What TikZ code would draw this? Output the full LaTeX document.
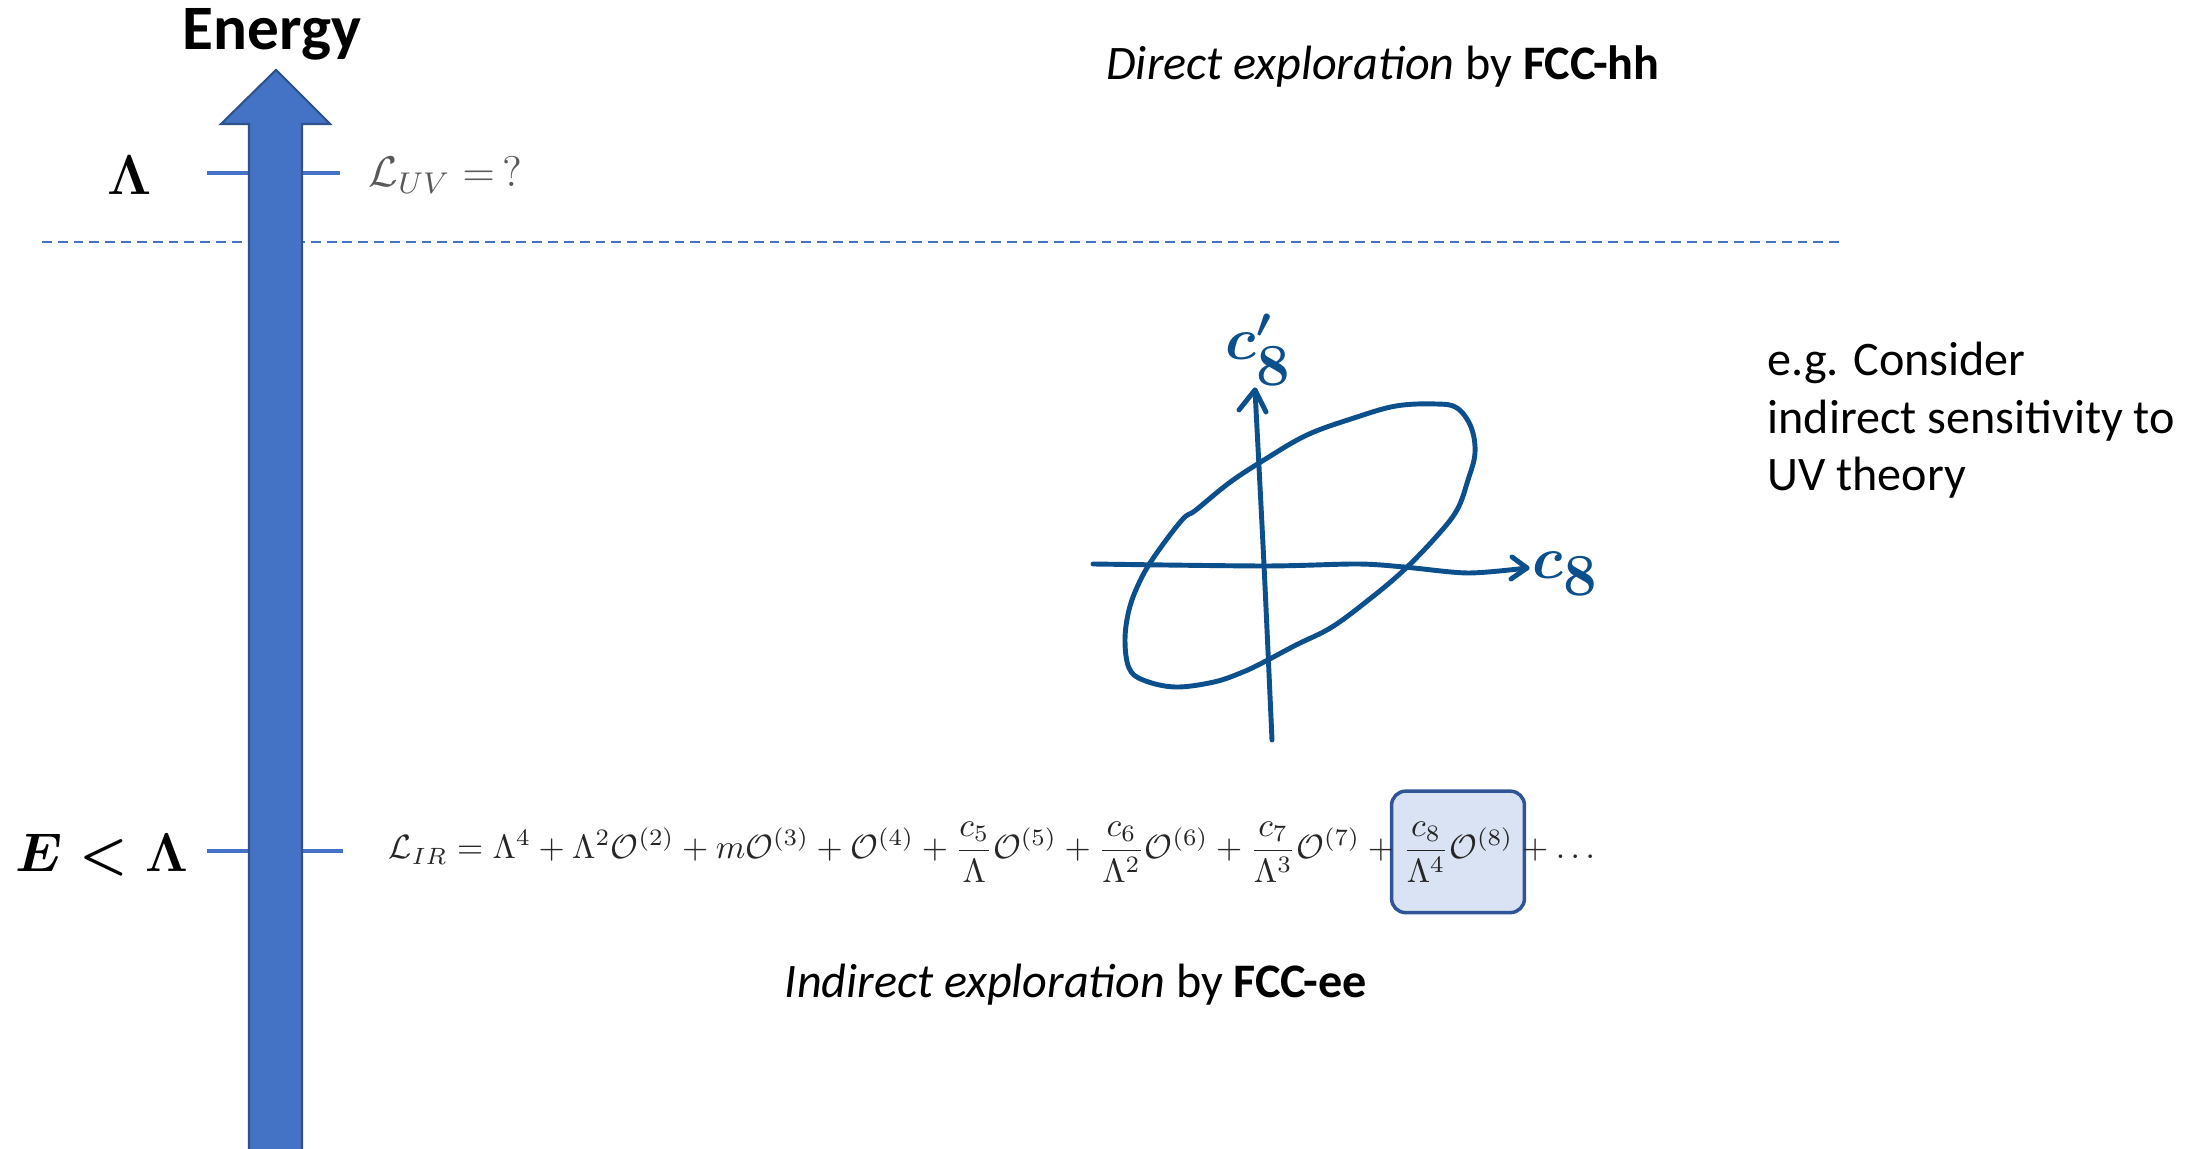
\RequirePackage{fix-cm}
\documentclass[tikz,border=0pt]{standalone}
\usepackage{amsmath,amssymb}
\usepackage{fontspec}
\setmainfont{Carlito}
\usetikzlibrary{positioning,fit}
\definecolor{arrowblue}{HTML}{4472C4}
\definecolor{arrowedge}{HTML}{2F528F}
\definecolor{inkblue}{HTML}{0B4F8C}
\definecolor{boxfill}{HTML}{DAE3F3}
\definecolor{boxedge}{HTML}{2F5597}
\pgfdeclarelayer{background}
\pgfsetlayers{background,main}

\begin{document}
\begin{tikzpicture}[x=0.1mm,y=-0.1mm,
    scaletick/.style={arrowblue,line width=1.1pt},
    ink/.style={inkblue,line width=1.4pt,line cap=round,line join=round},
    inklabel/.style={text=inkblue,font=\fontsize{17}{19}\selectfont},
    eq/.style={inner sep=0pt,font=\fontsize{10}{12}\selectfont,text=black!85,scale=0.958,transform shape},
    caption/.style={anchor=base,font=\fontsize{13.7}{16}\selectfont},
    c8frame/.style={draw=boxedge,fill=boxfill,line width=1pt,rounded corners=4pt}]
  \useasboundingbox (0,0) rectangle (2205,1149);
  \draw[arrowblue,line width=0.8pt,dash pattern=on 2.8pt off 1.7pt] (42,242) -- (1839,242);
  \draw[scaletick] (207,173) -- (340,173);
  \draw[scaletick] (207,851) -- (343,851);
  \filldraw[fill=arrowblue,draw=arrowedge,line width=0.6pt] (249,1160) -- (249,124) -- (221,124) -- (276,70) -- (330,124) -- (302,124) -- (302,1160) -- cycle;

  \node[anchor=base,font=\bfseries\fontsize{18}{21}\selectfont] (energy) at (272,50) {Energy};
  \node[font=\fontsize{16}{19}\selectfont] (cutoff) at (130,175) {$\boldsymbol{\Lambda}$};
  \node[font=\fontsize{15.5}{18}\selectfont] (lowE) at (102,855) {$\boldsymbol{E<\Lambda}$};
  \node[anchor=base west,inner sep=0pt,font=\fontsize{12.2}{14}\selectfont,text=black!65] (Luv) at (368,187) {$\mathcal{L}_{UV}=\,?$};

  \coordinate (eqstart) at (388,859);
  \node[eq,anchor=base west] (Lir) at (eqstart) {$\displaystyle\mathcal{L}_{IR}=\Lambda^4+\Lambda^2\mathcal{O}^{(2)}+m\mathcal{O}^{(3)}+\mathcal{O}^{(4)}+\frac{c_5}{\Lambda}\mathcal{O}^{(5)}+\frac{c_6}{\Lambda^2}\mathcal{O}^{(6)}+\frac{c_7}{\Lambda^3}\mathcal{O}^{(7)}+{}$};
  \node[eq,anchor=base west] (c8term) at (Lir.base east) {$\displaystyle\frac{c_8}{\Lambda^4}\mathcal{O}^{(8)}$};
  \node[eq,anchor=base west] (dots) at (c8term.base east) {${}+\ldots$};
  \begin{pgfonlayer}{background}
    \node[c8frame,fit=(c8term),inner xsep=3pt,inner ysep=8.5pt] (c8box) {};
  \end{pgfonlayer}

  \node[caption] (direct) at (1383,80) {\textit{Direct exploration} by \textbf{FCC-hh}};
  \node[caption] (indirect) at (1076,998) {\textit{Indirect exploration} by \textbf{FCC-ee}};
  \node[anchor=base west,align=left,font=\fontsize{13.7}{16.4}\selectfont] (note) at (1755,491) {e.g. Consider\\indirect sensitivity to\\UV theory};

  \draw[ink] plot[smooth cycle,tension=0.6] coordinates {(1396,406) (1436,404) (1457,408) (1471,427) (1475,453) (1468,480) (1457,510) (1436,537) (1404,570) (1371,598) (1332,627) (1296,645) (1264,662) (1243,672) (1214,682) (1175,687) (1143,680) (1129,668) (1125,640) (1129,610) (1139,583) (1154,557) (1182,520) (1196,510) (1229,483) (1264,460) (1307,435) (1354,418)};
  \draw[ink] plot[smooth] coordinates {(1093,564) (1264,566) (1357,564) (1404,567) (1468,573) (1527,568)};
  \draw[ink] (1512,557) -- (1527,568) -- (1511,579);
  \draw[ink] plot[smooth] coordinates {(1272,740) (1264,565) (1255,390)};
  \draw[ink] (1239,410) -- (1255,390) -- (1266,412);
  \node[inklabel] (c8y) at (1259,350) {$\boldsymbol{c'_{\textstyle 8}}$};
  \node[inklabel] (c8x) at (1566,574) {$\boldsymbol{c_{\textstyle 8}}$};
\end{tikzpicture}
\end{document}
